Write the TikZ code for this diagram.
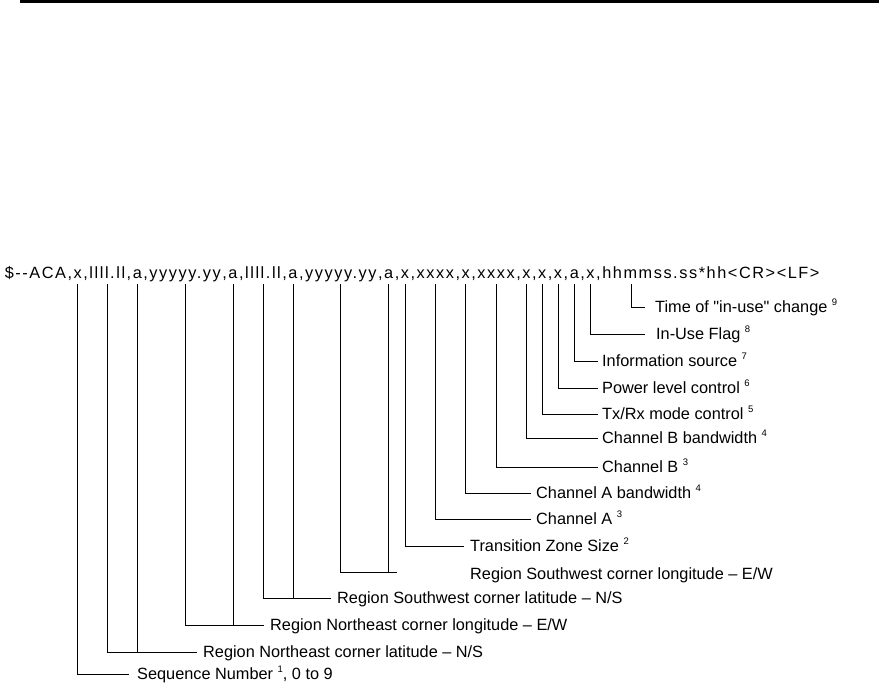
\documentclass[tikz,border=0pt]{standalone}
\usepackage{fontspec}
\setmainfont{Liberation Sans}
\newfontfamily\hdrfont[LetterSpace=9.6]{Liberation Sans}
\newcommand\noteref[1]{\ \raisebox{.8ex}{\fontsize{9.5}{10}\selectfont#1}}

\begin{document}
\begin{tikzpicture}[x=1pt,y=-1pt,
  hdr/.style={inner ysep=0pt,inner xsep=.78pt,outer sep=0pt,
    font=\hdrfont\fontsize{16.3}{18}\selectfont},
  lbl/.style={inner sep=0pt,anchor=west,text height=11.7pt,text depth=0pt,
    font=\fontsize{16.3}{18}\selectfont},
  lead/.style={line width=.8pt}]
  \useasboundingbox (0,0) rectangle (879,693);
  \draw[line width=3pt] (20,1.5) -- (879,1.5);
  % sentence layout, one node per field so the leaders can find them
  \node[hdr,anchor=base west] (f0) at (4,278) {\$-{}-ACA};
  \foreach \t [count=\i,remember=\i as \j (initially 0)] in
    {x,llll.ll,a,yyyyy.yy,a,llll.ll,a,yyyyy.yy,a,x,xxxx,x,xxxx,x,x,x,a,x,hhmmss.ss}
    {\node[hdr,anchor=base west] (c\i) at (f\j.base east) {,};
     \node[hdr,anchor=base west] (f\i) at (c\i.base east) {\t};}
  \node[hdr,anchor=base west] (tail) at (f19.base east) {*hh<CR><LF>};
  \coordinate (tick) at (0,284);
  \coordinate (tm) at ([xshift=-18pt]f19.center);

  \node[lbl] (time)  at (655,307) {Time of \textquotedbl in-use\textquotedbl\ change\noteref{9}};
  \node[lbl] (inuse) at (656,334) {In-Use Flag\noteref{8}};
  \node[lbl] (src)   at (602,361) {Information source\noteref{7}};
  \node[lbl] (pwr)   at (602,388) {Power level control\noteref{6}};
  \node[lbl] (txrx)  at (602,414) {Tx/Rx mode control\noteref{5}};
  \node[lbl] (bwb)   at (602,438) {Channel B bandwidth\noteref{4}};
  \node[lbl] (chb)   at (602,467) {Channel B\noteref{3}};
  \node[lbl] (bwa)   at (536,493) {Channel A bandwidth\noteref{4}};
  \node[lbl] (cha)   at (536,519) {Channel A\noteref{3}};
  \node[lbl] (zone)  at (470,546) {Transition Zone Size\noteref{2}};
  \node[lbl] (swlon) at (470,574) {Region Southwest corner longitude -- E/W};
  \node[lbl] (swlat) at (337,598) {Region Southwest corner latitude -- N/S};
  \node[lbl] (nelon) at (270,625) {Region Northeast corner longitude -- E/W};
  \node[lbl] (nelat) at (203,652) {Region Northeast corner latitude -- N/S};
  \node[lbl] (seq)   at (137,674) {Sequence Number\noteref{1}, 0 to 9};

  % single fields
  \draw[lead] (tm |- tick) |- ([xshift=-10pt]time.west);
  \draw[lead] (f18 |- tick) |- ([xshift=-11pt]inuse.west);
  \draw[lead] (f17 |- tick) |- ([xshift=-4pt]src.west);
  \draw[lead] (f16 |- tick) |- ([xshift=-4pt]pwr.west);
  \draw[lead] (f15 |- tick) |- ([xshift=-4pt]txrx.west);
  \draw[lead] (f14 |- tick) |- ([xshift=-4pt]bwb.west);
  \draw[lead] (f13 |- tick) |- ([xshift=-4pt]chb.west);
  \draw[lead] (f12 |- tick) |- ([xshift=-5pt]bwa.west);
  \draw[lead] (f11 |- tick) |- ([xshift=-5pt]cha.west);
  \draw[lead] (f10 |- tick) |- ([xshift=-6pt]zone.west);
  \draw[lead] (f1 |- tick) |- ([xshift=-8pt]seq.west);
  % value and hemisphere pairs
  \coordinate (swend) at (397,572);
  \draw[lead] (f8 |- tick) |- (swend);
  \draw[lead] (f9 |- tick) -- (f9 |- swend);
  \draw[lead] (f6 |- tick) |- ([xshift=-6pt]swlat.west);
  \draw[lead] (f7 |- tick) -- (f7 |- swlat.west);
  \draw[lead] (f4 |- tick) |- ([xshift=-6pt]nelon.west);
  \draw[lead] (f5 |- tick) -- (f5 |- nelon.west);
  \draw[lead] (f2 |- tick) |- ([xshift=-6pt]nelat.west);
  \draw[lead] (f3 |- tick) -- (f3 |- nelat.west);
\end{tikzpicture}
\end{document}
